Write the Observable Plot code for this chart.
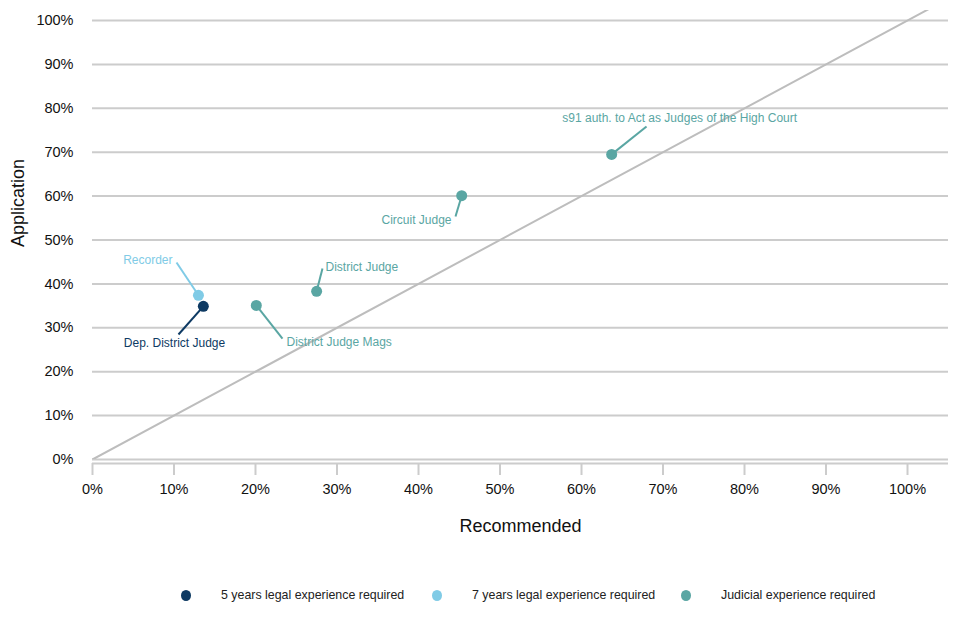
<!DOCTYPE html>
<html>
<head>
<meta charset="utf-8">
<script src="https://cdn.jsdelivr.net/npm/d3@7"></script>
<script src="https://cdn.jsdelivr.net/npm/@observablehq/plot@0.6"></script>
<style>
  html, body { margin: 0; padding: 0; background: #fff; }
  body { width: 960px; height: 640px; font-family: "Liberation Sans", Arial, sans-serif; }
  #legend { height: 95px; position: relative; font-size: 12.4px; color: #222; }
  #legend .item { position: absolute; top: 44px; display: flex; align-items: center; height: 12px; }
  #legend .dot { width: 10px; height: 11px; border-radius: 50%; margin-right: 30px; }
</style>
</head>
<body>
<div id="chart"></div>
<div id="legend"></div>
<script>
// ---- data ----
const names = ["Dep. District Judge", "Recorder", "District Judge Mags", "District Judge", "Circuit Judge", "s91 auth. to Act as Judges of the High Court"];
const groups = ["5 years legal experience required", "7 years legal experience required", "Judicial experience required", "Judicial experience required", "Judicial experience required", "Judicial experience required"];
const recommended = [0.136, 0.130, 0.201, 0.275, 0.453, 0.637];
const application = [0.349, 0.374, 0.351, 0.383, 0.601, 0.695];
// repelled label positions (data units) and connector ends
const labelX = [0.1006, 0.0982, 0.238, 0.2859, 0.4405, 0.7205];
const labelY = [0.2642, 0.4533, 0.2665, 0.4374, 0.5444, 0.7768];
const labelAnchor = ["middle", "end", "start", "start", "end", "middle"];
const segX = [0.1055, 0.1031, 0.2331, 0.2822, 0.4454, 0.6798];
const segY = [0.2847, 0.4487, 0.2756, 0.4351, 0.5535, 0.7585];
const groupDomain = ["5 years legal experience required", "7 years legal experience required", "Judicial experience required"];
const groupColors = ["#0E3A63", "#80CBE6", "#5AA6A3"];
const xTicks = [0, 0.1, 0.2, 0.3, 0.4, 0.5, 0.6, 0.7, 0.8, 0.9, 1.0];
const yTicks = [0, 0.1, 0.2, 0.3, 0.4, 0.5, 0.6, 0.7, 0.8, 0.9, 1.0];

const rows = names.map((n, i) => ({
  name: n, group: groups[i], x: recommended[i], y: application[i],
  lx: labelX[i], ly: labelY[i], anchor: labelAnchor[i], sx: segX[i], sy: segY[i]
}));
const colorOf = g => groupColors[groupDomain.indexOf(g)];
const fmt = d3.format(".0%");
const font = "'Liberation Sans', Arial, sans-serif";

const chart = Plot.plot({
  width: 960,
  height: 545,
  marginTop: 10,
  marginBottom: 86,
  marginLeft: 92,
  marginRight: 12,
  style: { fontFamily: font, color: "#1a1a1a", background: "#fff" },
  x: { domain: [0, 1.0503] },
  y: { domain: [0, 1.0228] },
  marks: [
    Plot.ruleY(yTicks, { stroke: "#cccccc", strokeWidth: 2 }),
    Plot.ruleY([0], { dy: 4, stroke: "#cccccc", strokeWidth: 2 }),
    Plot.axisY({ ticks: yTicks, tickFormat: fmt, tickSize: 0, tickPadding: 19, fontSize: 14.5, label: null, fill: "#111" }),
    Plot.axisX({ ticks: xTicks, tickFormat: fmt, tickSize: 12, dy: 4, tickPadding: 8, fontSize: 14.5, label: null, stroke: "#cccccc", strokeWidth: 2, fill: "#111" }),
    Plot.text(["Application"], { frameAnchor: "left", dx: -74, dy: 12, rotate: -90, fontSize: 18, fill: "#111" }),
    Plot.text(["Recommended"], { frameAnchor: "bottom", dy: 72, fontSize: 18, fill: "#111" }),
    Plot.line([[0, 0], [1.1, 1.1]], { stroke: "#bdbdbd", strokeWidth: 2, clip: true }),
    Plot.link(rows, { x1: "x", y1: "y", x2: "sx", y2: "sy", stroke: d => colorOf(d.group), strokeWidth: 2 }),
    Plot.dot(rows, { x: "x", y: "y", r: 5.5, fill: d => colorOf(d.group) }),
    ...["start", "middle", "end"].map(a =>
      Plot.text(rows.filter(d => d.anchor === a), { x: "lx", y: "ly", text: "name", textAnchor: a, fontSize: 12, fill: d => colorOf(d.group) })
    )
  ]
});
document.getElementById("chart").appendChild(chart);

// legend
const leg = document.getElementById("legend");
const legendLeft = [181, 432, 681];
groupDomain.forEach((g, i) => {
  const item = document.createElement("div");
  item.className = "item";
  item.style.left = legendLeft[i] + "px";
  const dot = document.createElement("span");
  dot.className = "dot";
  dot.style.background = groupColors[i];
  const t = document.createElement("span");
  t.textContent = g;
  item.appendChild(dot);
  item.appendChild(t);
  leg.appendChild(item);
});
</script>
</body>
</html>
